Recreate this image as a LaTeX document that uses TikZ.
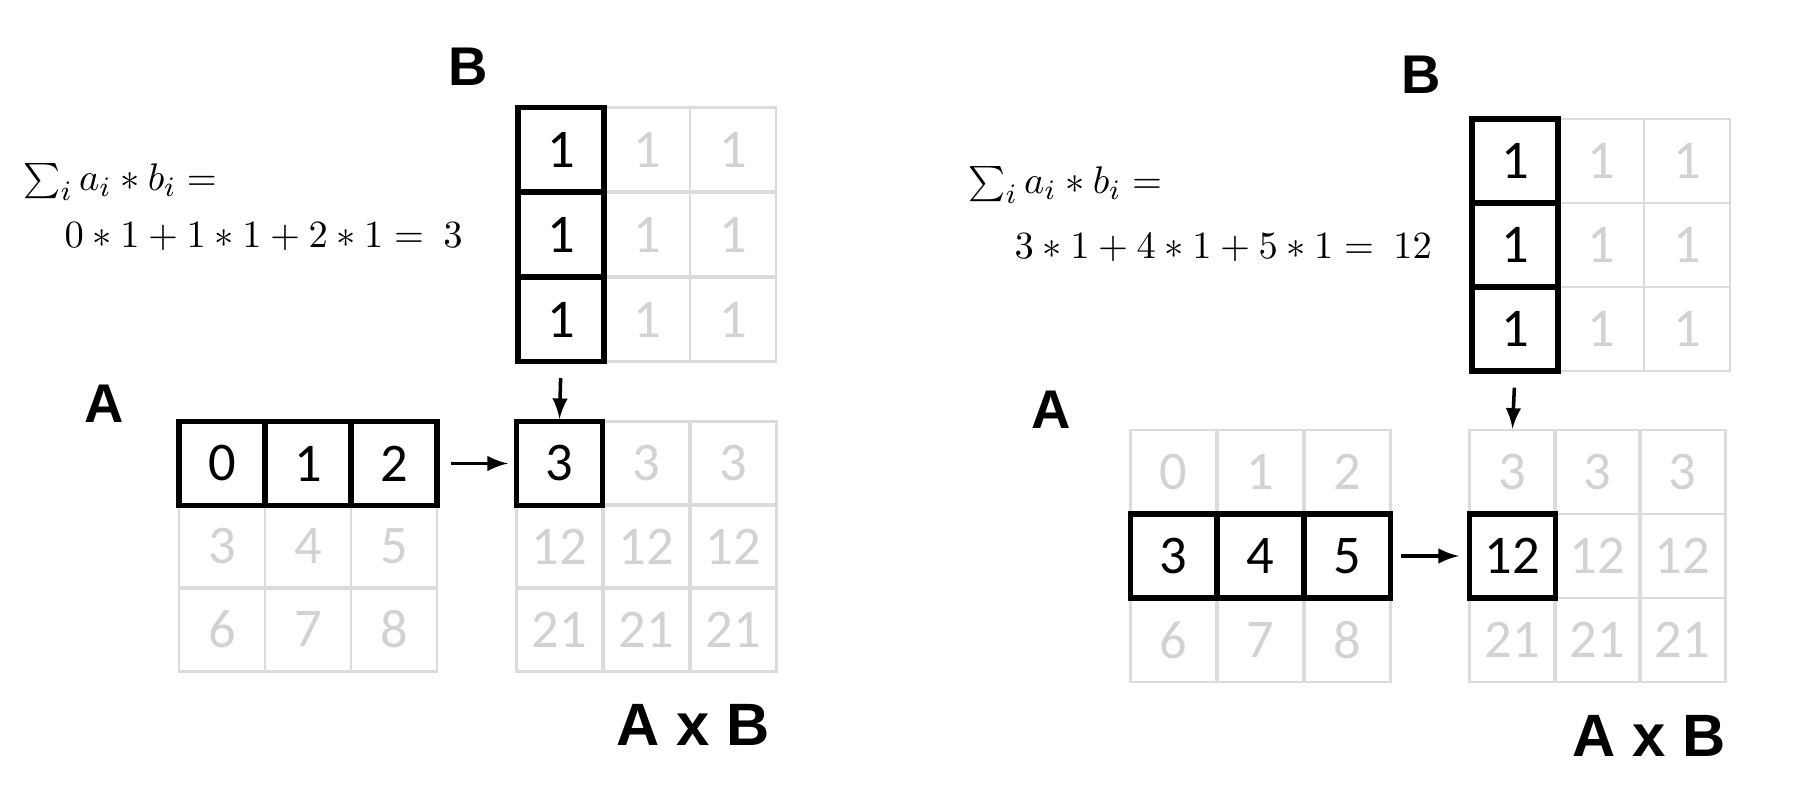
\documentclass[tikz,border=0pt]{standalone}
\usepackage{fontspec}
\setmainfont{Carlito}
\newfontfamily\labelfont{Liberation Sans}
\usepackage{tikz}

\tikzset{
  cell/.style={draw=gray!28, line width=0.8pt, text=gray!35,
    minimum width=0.86cm, minimum height=0.84cm, inner sep=0pt,
    font=\fontsize{15.5}{17}\selectfont},
  hot/.style={cell, draw=black, line width=1.5pt, text=black},
  arr/.style={->, >=latex, line width=1pt},
  mat/.style={font=\labelfont\bfseries\fontsize{15.5}{18}\selectfont},
  prod/.style={font=\labelfont\bfseries\fontsize{17}{20}\selectfont},
  sumtxt/.style={anchor=west, inner sep=0pt, font=\fontsize{11}{13}\selectfont}
}

\begin{document}
\begin{tikzpicture}[x=0.01cm, y=-0.01cm]
  \useasboundingbox (0,0) rectangle (1811,789);

  % ---- left: first row of A ----
  % B
  \foreach \r in {1,2,3}{
    \foreach \c in {2,3}
      \node[cell] (lB\r\c) at ({518+86*\c-43},{107+85*\r-42.5}) {1};
  }
  \foreach \r in {1,2,3}
    \node[hot] (lB\r1) at (561,{107+85*\r-42.5}) {1};

  % A
  \foreach \r in {2,3}{
    \foreach \c in {1,2,3}{
      \pgfmathtruncatemacro{\v}{3*(\r-1)+\c-1}
      \node[cell] (lA\r\c) at ({179+86*\c-43},{422+83*\r-41.5}) {\v};
    }
  }
  \foreach \c/\v in {1/0,2/1,3/2}
    \node[hot] (lA1\c) at ({179+86*\c-43},463.5) {\v};

  % A x B
  \foreach \r in {1,2,3}{
    \foreach \c in {1,2,3}{
      \pgfmathtruncatemacro{\v}{9*(\r-1)+3}
      \ifnum\r\c=11 \else
        \node[cell] (lAB\r\c) at ({516+87*\c-43.5},{422+83*\r-41.5}) {\v};
      \fi
    }
  }
  \node[hot] (lAB11) at (559.5,463.5) {3};

  % arrows
  \draw[arr, shorten <=4pt] (lB31.south) -- (lAB11.north);
  \draw[arr, shorten <=0.11cm, shorten >=0.06cm] (lA13.east) -- (lAB11.west);

  % labels
  \node[mat] (lBlab) at (468,67) {B};
  \node[mat] (lAlab) at (104,404) {A};
  \node[prod] (lABlab) at (693,725) {A x B};
  \node[sumtxt] (lsum) at (23,182) {$\sum_i a_i * b_i =$};
  \node[sumtxt] (lcalc) at (64,237) {$0 * 1 + 1 * 1 + 2 * 1 =\ 3$};

  % ---- right: second row of A ----
  % B
  \foreach \r in {1,2,3}{
    \foreach \c in {2,3}
      \node[cell] (rB\r\c) at ({1472+86*\c-43},{119+84*\r-42}) {1};
  }
  \foreach \r in {1,2,3}
    \node[hot] (rB\r1) at (1515,{119+84*\r-42}) {1};

  % A
  \foreach \r in {1,3}{
    \foreach \c in {1,2,3}{
      \pgfmathtruncatemacro{\v}{3*(\r-1)+\c-1}
      \node[cell] (rA\r\c) at ({1130+87*\c-43.5},{430+84*\r-42}) {\v};
    }
  }
  \foreach \c/\v in {1/3,2/4,3/5}
    \node[hot] (rA2\c) at ({1130+87*\c-43.5},556) {\v};

  % A x B
  \foreach \r in {1,2,3}{
    \foreach \c in {1,2,3}{
      \pgfmathtruncatemacro{\v}{9*(\r-1)+3}
      \ifnum\r\c=21 \else
        \node[cell] (rAB\r\c) at ({1470+85*\c-42.5},{430+84*\r-42}) {\v};
      \fi
    }
  }
  \node[hot] (rAB21) at (1512.5,556) {12};

  % arrows
  \draw[arr, shorten <=4pt] (rB31.south) -- (rAB11.north);
  \draw[arr, shorten <=0.08cm, shorten >=0.08cm] (rA23.east) -- (rAB21.west);

  % labels
  \node[mat] (rBlab) at (1421,75) {B};
  \node[mat] (rAlab) at (1051,410) {A};
  \node[prod] (rABlab) at (1649,736) {A x B};
  \node[sumtxt] (rsum) at (968,185) {$\sum_i a_i * b_i =$};
  \node[sumtxt] (rcalc) at (1014,248) {$3 * 1 + 4 * 1 + 5 * 1 =\ 12$};
\end{tikzpicture}
\end{document}
